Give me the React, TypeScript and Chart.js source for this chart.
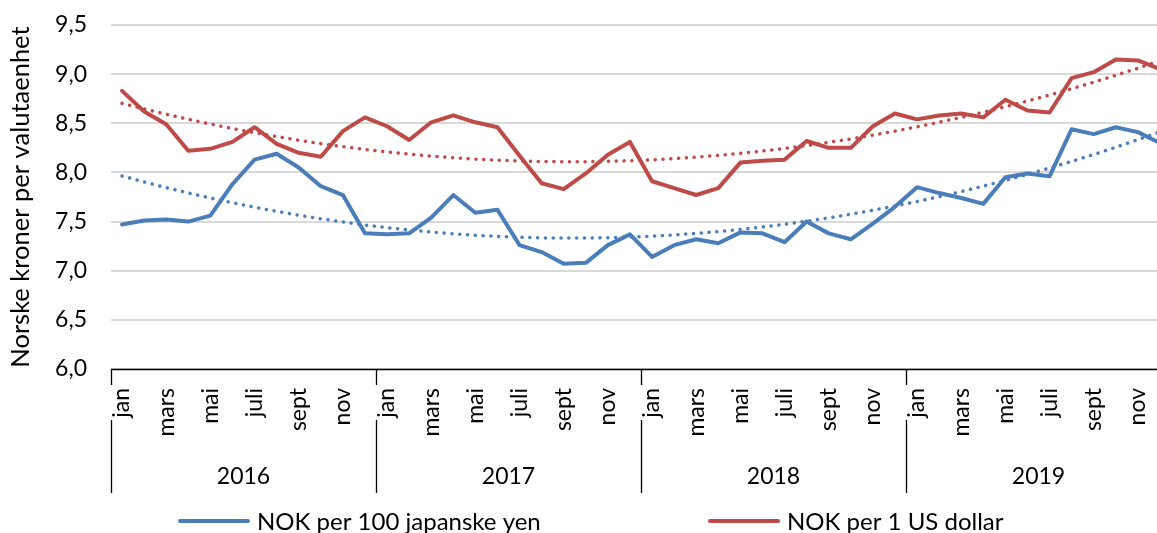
import React, { useEffect, useRef } from 'react';
import { Chart, registerables } from 'chart.js';

Chart.register(...registerables);

const FONT = 'Lato';

const monthNames = ['jan', 'feb', 'mars', 'april', 'mai', 'juni', 'juli', 'aug', 'sept', 'okt', 'nov', 'des'];
const years = ['2016', '2017', '2018', '2019'];

const jpyValues = [
  7.47, 7.51, 7.52, 7.50, 7.56, 7.88, 8.13, 8.19, 8.05, 7.86, 7.77, 7.38,
  7.37, 7.38, 7.54, 7.77, 7.59, 7.62, 7.26, 7.19, 7.07, 7.08, 7.26, 7.37,
  7.14, 7.26, 7.32, 7.28, 7.39, 7.38, 7.29, 7.50, 7.38, 7.32, 7.48, 7.65,
  7.85, 7.79, 7.74, 7.68, 7.95, 7.99, 7.96, 8.44, 8.39, 8.46, 8.41, 8.30,
];

const usdValues = [
  8.83, 8.62, 8.49, 8.22, 8.24, 8.31, 8.46, 8.29, 8.20, 8.16, 8.42, 8.56,
  8.47, 8.33, 8.51, 8.58, 8.51, 8.46, 8.17, 7.89, 7.83, 7.99, 8.18, 8.31,
  7.91, 7.84, 7.77, 7.84, 8.10, 8.12, 8.13, 8.32, 8.25, 8.25, 8.47, 8.60,
  8.54, 8.58, 8.60, 8.56, 8.74, 8.63, 8.61, 8.96, 9.02, 9.15, 9.14, 9.05,
];

const seriesNames = ['NOK per 100 japanske yen', 'NOK per 1 US dollar'];
const yAxisTitle = 'Norske kroner per valutaenhet';
const yMin = 6.0;
const yMax = 9.5;
const yStep = 0.5;

const BLUE = '#4a7ebb';
const RED = '#be4b48';

const labels: string[] = [];
years.forEach((y) => monthNames.forEach((m) => labels.push(m + ' ' + y)));

// Excel-style polynomial (order 2) trendline, least squares on x = 1..n
function polyTrend(values: number[]): number[] {
  const n = values.length;
  let s0 = 0, s1 = 0, s2 = 0, s3 = 0, s4 = 0, t0 = 0, t1 = 0, t2 = 0;
  for (let i = 0; i < n; i++) {
    const x = i + 1;
    const y = values[i];
    s0 += 1; s1 += x; s2 += x * x; s3 += x * x * x; s4 += x * x * x * x;
    t0 += y; t1 += x * y; t2 += x * x * y;
  }
  const M = [
    [s0, s1, s2, t0],
    [s1, s2, s3, t1],
    [s2, s3, s4, t2],
  ];
  for (let c = 0; c < 3; c++) {
    let p = c;
    for (let r = c + 1; r < 3; r++) if (Math.abs(M[r][c]) > Math.abs(M[p][c])) p = r;
    [M[c], M[p]] = [M[p], M[c]];
    for (let r = 0; r < 3; r++) {
      if (r === c) continue;
      const f = M[r][c] / M[c][c];
      for (let k = c; k < 4; k++) M[r][k] -= f * M[c][k];
    }
  }
  const a = M[0][3] / M[0][0];
  const b = M[1][3] / M[1][1];
  const cc = M[2][3] / M[2][2];
  return values.map((_, i) => a + b * (i + 1) + cc * (i + 1) * (i + 1));
}

const CANVAS_W = 1180;
const CANVAS_H = 533;

const axisPlugin = {
  id: 'excelAxis',
  afterDraw(chart: any) {
    const { ctx, chartArea, scales } = chart;
    const xs = scales.x;
    const n = labels.length;
    const step = xs.getPixelForValue(1) - xs.getPixelForValue(0);
    ctx.save();
    // axis line
    ctx.strokeStyle = '#000';
    ctx.lineWidth = 1.3;
    ctx.beginPath();
    ctx.moveTo(chartArea.left, chartArea.bottom + 0.5);
    ctx.lineTo(chartArea.right, chartArea.bottom + 0.5);
    ctx.stroke();
    // year separators
    for (let g = 0; g <= years.length; g++) {
      const idx = g * 12;
      const x = Math.round(xs.getPixelForValue(Math.min(idx, n - 1)) + (idx >= n ? step / 2 : -step / 2)) + 0.5;
      ctx.beginPath();
      ctx.moveTo(x, chartArea.bottom);
      ctx.lineTo(x, chartArea.bottom + 16);
      ctx.moveTo(x, chartArea.bottom + 51);
      ctx.lineTo(x, chartArea.bottom + 124);
      ctx.stroke();
    }
    // month labels
    ctx.fillStyle = '#000';
    ctx.font = `23px ${FONT}`;
    for (let i = 0; i < n; i += 2) {
      const x = xs.getPixelForValue(i);
      ctx.save();
      ctx.translate(x, chartArea.bottom + 19);
      ctx.rotate(-Math.PI / 2);
      ctx.textAlign = 'right';
      ctx.textBaseline = 'middle';
      ctx.fillText(monthNames[i % 12], 0, 0);
      ctx.restore();
    }
    // year labels
    ctx.textAlign = 'center';
    ctx.textBaseline = 'middle';
    years.forEach((y, g) => {
      const x0 = xs.getPixelForValue(g * 12);
      const x1 = xs.getPixelForValue(g * 12 + 11);
      ctx.fillText(y, (x0 + x1) / 2, chartArea.bottom + 108);
    });
    // legend
    const legendY = 521;
    const items = [
      { x: 180, color: BLUE, text: seriesNames[0] },
      { x: 710, color: RED, text: seriesNames[1] },
    ];
    ctx.textAlign = 'left';
    ctx.font = `24px ${FONT}`;
    items.forEach((it) => {
      ctx.strokeStyle = it.color;
      ctx.lineWidth = 4;
      ctx.lineCap = 'round';
      ctx.beginPath();
      ctx.moveTo(it.x, legendY);
      ctx.lineTo(it.x + 68, legendY);
      ctx.stroke();
      ctx.fillStyle = '#000';
      ctx.fillText(it.text, it.x + 77, legendY + 1);
    });
    ctx.restore();
  },
};

export default function App() {
  const ref = useRef<HTMLCanvasElement | null>(null);

  useEffect(() => {
    if (!ref.current) return;
    const jpyTrend = polyTrend(jpyValues);
    const usdTrend = polyTrend(usdValues);
    const dotted = {
      pointRadius: 0,
      borderWidth: 3.5,
      borderDash: [0.1, 7.7],
      borderCapStyle: 'round' as const,
      tension: 0,
      fill: false,
    };
    const solid = {
      pointRadius: 0,
      borderWidth: 4,
      borderJoinStyle: 'round' as const,
      borderCapStyle: 'round' as const,
      tension: 0,
      fill: false,
    };
    const chart = new Chart(ref.current, {
      type: 'line',
      data: {
        labels,
        datasets: [
          { label: 'trend usd', data: usdTrend, borderColor: RED, ...dotted },
          { label: 'trend jpy', data: jpyTrend, borderColor: BLUE, ...dotted },
          { label: seriesNames[1], data: usdValues, borderColor: RED, ...solid },
          { label: seriesNames[0], data: jpyValues, borderColor: BLUE, ...solid },
        ],
      },
      options: {
        animation: false,
        responsive: false,
        devicePixelRatio: 1,
        layout: { padding: { left: 0, top: 25, right: CANVAS_W - 1171, bottom: CANVAS_H - 369 } },
        plugins: {
          legend: { display: false },
          tooltip: { enabled: false },
        },
        scales: {
          x: {
            type: 'category',
            offset: true,
            display: false,
          },
          y: {
            min: yMin,
            max: yMax,
            afterFit: (s: any) => {
              s.width = 111;
              s.paddingTop = 0;
              s.paddingBottom = 0;
            },
            ticks: {
              stepSize: yStep,
              padding: 24,
              color: '#000',
              font: { family: FONT, size: 23 },
              callback: (v: any) => Number(v).toFixed(1).replace('.', ','),
            },
            grid: { color: '#d9d9d9', lineWidth: 2, drawTicks: false },
            border: { display: false },
            title: {
              display: true,
              text: yAxisTitle,
              color: '#000',
              font: { family: FONT, size: 25.5 },
              padding: { top: 5, bottom: 0 },
            },
          },
        },
      },
      plugins: [axisPlugin],
    });
    return () => chart.destroy();
  }, []);

  return (
    <div style={{ position: 'fixed', left: 0, top: 0, width: 1157, height: 533, overflow: 'hidden', background: '#fff' }}>
      <canvas ref={ref} width={CANVAS_W} height={CANVAS_H} style={{ display: 'block', width: CANVAS_W, height: CANVAS_H }} />
    </div>
  );
}
